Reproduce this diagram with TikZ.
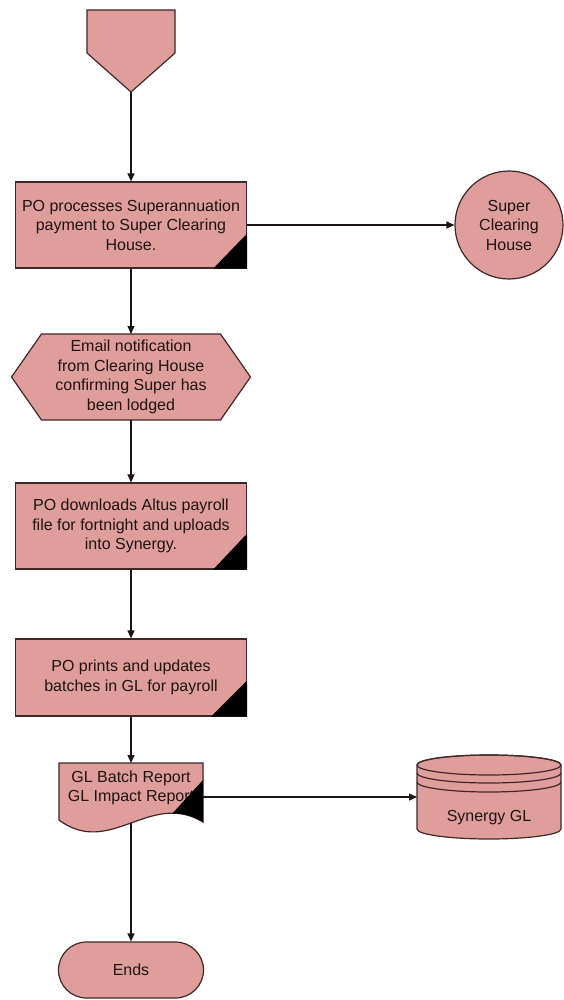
\documentclass[tikz,border=0pt]{standalone}
\usepackage{fontspec}
\setmainfont{Liberation Sans}
\usetikzlibrary{arrows.meta,backgrounds}

\definecolor{shapefill}{RGB}{223,158,155}
\definecolor{edge}{RGB}{62,40,40}
\definecolor{ink}{RGB}{30,20,20}

\begin{document}
\begin{tikzpicture}[x=1pt,y=-1pt,
  outline/.style={draw=edge, line width=1.2pt, fill=shapefill, line join=miter},
  txt/.style={font=\fontsize{16}{19.5}\selectfont, text=ink, align=center, inner sep=0pt},
  procbox/.style={outline, txt, rectangle, minimum width=231pt},
  flow/.style={draw=ink, line width=1.2pt, -{Triangle[length=8pt,width=7pt]}},
  corner/.style={fill=black},
  anchorbox/.style={inner sep=0pt, outer sep=0pt}
]
\useasboundingbox (0,0) rectangle (563,1000);
\begin{pgfonlayer}{background}
  \fill[white] (0,0) rectangle (563,1000);
\end{pgfonlayer}

% off-page connector at the start
\coordinate (starttip) at (131,92);
\draw[outline] (87,10) -- (175,10) -- (175,53) -- (starttip) -- (87,53) -- cycle;

% first process step
\node[procbox, minimum height=86pt] (b1) at (131,225)
  {PO processes Superannuation\\payment to Super Clearing\\House.};
\fill[corner] (b1.south east) -- ([yshift=35pt]b1.south east) -- ([xshift=-34pt]b1.south east) -- cycle;

% external party
\node[outline, txt, circle, minimum size=108pt] (sch) at (509,225) {Super\\Clearing\\House};

% email notification (hexagon)
\node[txt, anchorbox, minimum width=239pt, minimum height=86pt] (hex) at (131,377)
  {Email notification\\from Clearing House\\confirming Super has\\been lodged};
\begin{pgfonlayer}{background}
  \draw[outline] (hex.west) -- ([xshift=30pt]hex.north west) -- ([xshift=-30pt]hex.north east)
    -- (hex.east) -- ([xshift=-30pt]hex.south east) -- ([xshift=30pt]hex.south west) -- cycle;
\end{pgfonlayer}

% second process step
\node[procbox, minimum height=86pt] (b2) at (131,526)
  {PO downloads Altus payroll\\file for fortnight and uploads\\into Synergy.};
\fill[corner] (b2.south east) -- ([yshift=36pt]b2.south east) -- ([xshift=-34pt]b2.south east) -- cycle;

% third process step
\node[procbox, minimum height=77pt] (b3) at (131,677.5)
  {PO prints and updates\\batches in GL for payroll};
\fill[corner] (b3.south east) -- ([yshift=36pt]b3.south east) -- ([xshift=-36pt]b3.south east) -- cycle;

% report document
\node[txt, anchorbox, minimum width=144pt, minimum height=50pt] (doc) at (131,788)
  {GL Batch Report\\GL Impact Report};
\begin{pgfonlayer}{background}
  \draw[outline] (doc.north west) -- (doc.north east) -- (203,822)
    .. controls (150,790) and (110,858) .. (59,820) -- cycle;
\end{pgfonlayer}
\fill[corner] (203,780) -- (172.6,813.2) .. controls (182.4,813.2) and (192.4,815.6) .. (203,822) -- cycle;
\coordinate (docbottom) at (131,823);

% data store
\node[anchorbox, minimum width=144pt, minimum height=85pt] (cyl) at (489,797) {};
\draw[outline] (417,765) -- (417,829)
  arc[start angle=180, end angle=360, x radius=72pt, y radius=10pt] -- (561,765)
  arc[start angle=0, end angle=180, x radius=72pt, y radius=10pt] -- cycle;
\draw[draw=edge, line width=1.2pt] (489,765) ellipse[x radius=72pt, y radius=10pt];
\draw[draw=edge, line width=1.2pt] (417,773) arc[start angle=180, end angle=360, x radius=72pt, y radius=10pt];
\draw[draw=edge, line width=1.2pt] (417,782) arc[start angle=180, end angle=360, x radius=72pt, y radius=10pt];
\node[txt] (cyltext) at (489,818) {Synergy GL};

% terminator
\node[outline, txt, rounded corners=28pt, minimum width=145pt, minimum height=56pt] (end) at (131,970) {Ends};

% connectors
\draw[flow] (starttip) -- (b1.north);
\draw[flow] (b1.east) -- (sch.west);
\draw[flow] (b1.south) -- (hex.north);
\draw[flow] (hex.south) -- (b2.north);
\draw[flow] (b2.south) -- (b3.north);
\draw[flow] (b3.south) -- (doc.north);
\draw[flow] (cyl.west -| doc.east) -- (cyl.west);
\draw[flow] (docbottom) -- (end.north);
\end{tikzpicture}
\end{document}
